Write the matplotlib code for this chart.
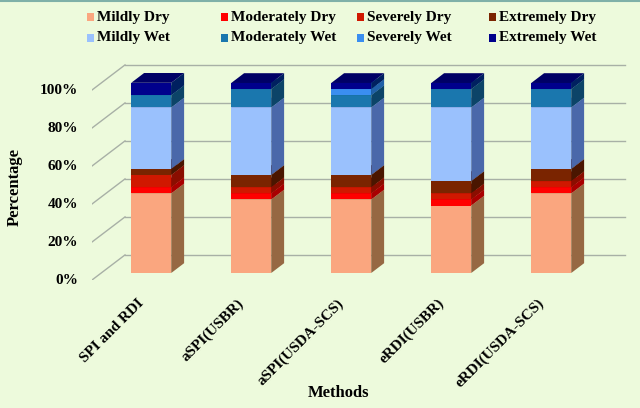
import matplotlib
matplotlib.use("Agg")
import matplotlib.pyplot as plt
from matplotlib.patches import Polygon, Rectangle
from matplotlib.transforms import offset_copy
import matplotlib.colors as mcolors
import numpy as np

plt.rcParams['font.family'] = ['Liberation Serif', 'DejaVu Serif']
plt.rcParams['font.weight'] = 'bold'

methods = ["SPI and RDI", "aSPI(USBR)", "aSPI(USDA-SCS)", "eRDI(USBR)", "eRDI(USDA-SCS)"]
series_names = ["Mildly Dry", "Moderately Dry", "Severely Dry", "Extremely Dry",
                "Mildly Wet", "Moderately Wet", "Severely Wet", "Extremely Wet"]
mildly_dry     = [41.9, 38.7, 38.7, 35.5, 41.9]
moderately_dry = [3.2, 3.2, 3.2, 3.2, 3.2]
severely_dry   = [6.5, 3.2, 3.2, 3.2, 3.2]
extremely_dry  = [3.2, 6.5, 6.5, 6.5, 6.5]
mildly_wet     = [32.3, 35.5, 35.5, 38.7, 32.3]
moderately_wet = [6.5, 9.7, 6.5, 9.7, 9.7]
severely_wet   = [0.0, 0.0, 3.2, 0.0, 0.0]
extremely_wet  = [6.5, 3.2, 3.2, 3.2, 3.2]
yticks = [0, 20, 40, 60, 80, 100]

series = [mildly_dry, moderately_dry, severely_dry, extremely_dry,
          mildly_wet, moderately_wet, severely_wet, extremely_wet]
colors = ["#FAA67F", "#FF0000", "#D01800", "#7A2400",
          "#9AC1FD", "#1A77AE", "#3A8EF0", "#00008C"]
side_colors = ["#966843", "#A80000", "#8A0E00", "#4A1600",
               "#4A68AA", "#0C4468", "#2060A8", "#002060"]
top_colors = ["#C8845F", "#CC0000", "#A01200", "#5A1A00",
              "#7A9AD8", "#115A88", "#2A70C8", "#000066"]

bg = "#EDFADC"
fig = plt.figure(figsize=(6.4, 4.08), dpi=100, facecolor=bg)
W, H = 640, 408
ax = fig.add_axes([92 / W, 128 / H, 540 / W, 222 / H])
ax.set_facecolor(bg)
ax.set_xlim(-0.5, 4.9)
ax.set_ylim(0, 222 / 1.9)
ax.axis('off')

# oblique depth (full floor depth)
DX, DY = 0.33, 13.2
f0, fd = 0.28, 0.39
bw = 0.4
grid_c = "#A8B0A6"
for v in yticks:
    ax.plot([-0.5, -0.5 + DX], [v, v + DY], color=grid_c, lw=1.0, zorder=1)
    ax.plot([-0.5 + DX, 4.5 + DX], [v + DY, v + DY], color=grid_c, lw=1.0, zorder=1)
    ax.text(-0.5 - 0.14, v, f"{v}%", ha='right', va='center', fontsize=11,
            fontweight='bold')

x = np.arange(len(methods))
bdx, bdy = fd * DX, fd * DY
cum = np.zeros(len(methods))
for vals, col, scol, tcol in zip(series, colors, side_colors, top_colors):
    vals = np.array(vals)
    xs = x + f0 * DX
    bottoms = cum + f0 * DY
    ax.bar(xs, vals, width=bw, bottom=bottoms, color=col, linewidth=0, zorder=3)
    for i in range(len(methods)):
        if vals[i] <= 0:
            continue
        xr = xs[i] + bw / 2
        xl = xs[i] - bw / 2
        b = bottoms[i]
        t = b + vals[i]
        ax.add_patch(Polygon([(xr, b), (xr + bdx, b + bdy), (xr + bdx, t + bdy), (xr, t)],
                             closed=True, facecolor=scol, edgecolor='none', zorder=3))
        ax.add_patch(Polygon([(xl, t), (xr, t), (xr + bdx, t + bdy), (xl + bdx, t + bdy)],
                             closed=True, facecolor=tcol, edgecolor='none', zorder=3))
    cum = cum + vals

# x labels
for i, m in enumerate(methods):
    tr = offset_copy(ax.transData, fig=fig, x=0, y=-21, units='dots')
    ax.text(i, 0, m, rotation=45, rotation_mode='anchor', ha='right', va='center',
            fontsize=11, fontweight='bold', transform=tr, clip_on=False)

fig.text(15 / W, 1 - 187 / H, "Percentage", rotation=90, ha='center', va='center',
         fontsize=12, fontweight='bold')
fig.text(339 / W, 1 - 393 / H, "Methods", ha='center', va='center',
         fontsize=12, fontweight='bold')

# legend (manual, Excel-like equal columns)
col_x = [87, 221, 357, 489]
row_y = [17, 38]
order = [(0, 0), (0, 1), (0, 2), (0, 3), (1, 0), (1, 1), (1, 2), (1, 3)]
for k, (r, c) in enumerate(order):
    px, py = col_x[c], row_y[r]
    fig.patches.append(Rectangle((px / W, 1 - (py + 3.5) / H), 7 / W, 7 / H,
                                 transform=fig.transFigure, facecolor=colors[k],
                                 edgecolor='none'))
    fig.text((px + 10) / W, 1 - py / H, series_names[k], ha='left', va='center',
             fontsize=11, fontweight='bold')

# top border line
fig.add_artist(plt.Line2D([0, 1], [1 - 0.5 / H, 1 - 0.5 / H], transform=fig.transFigure,
                          color="#7FB0A8", lw=1.5))

fig.savefig("out.png", dpi=100, facecolor=bg)
